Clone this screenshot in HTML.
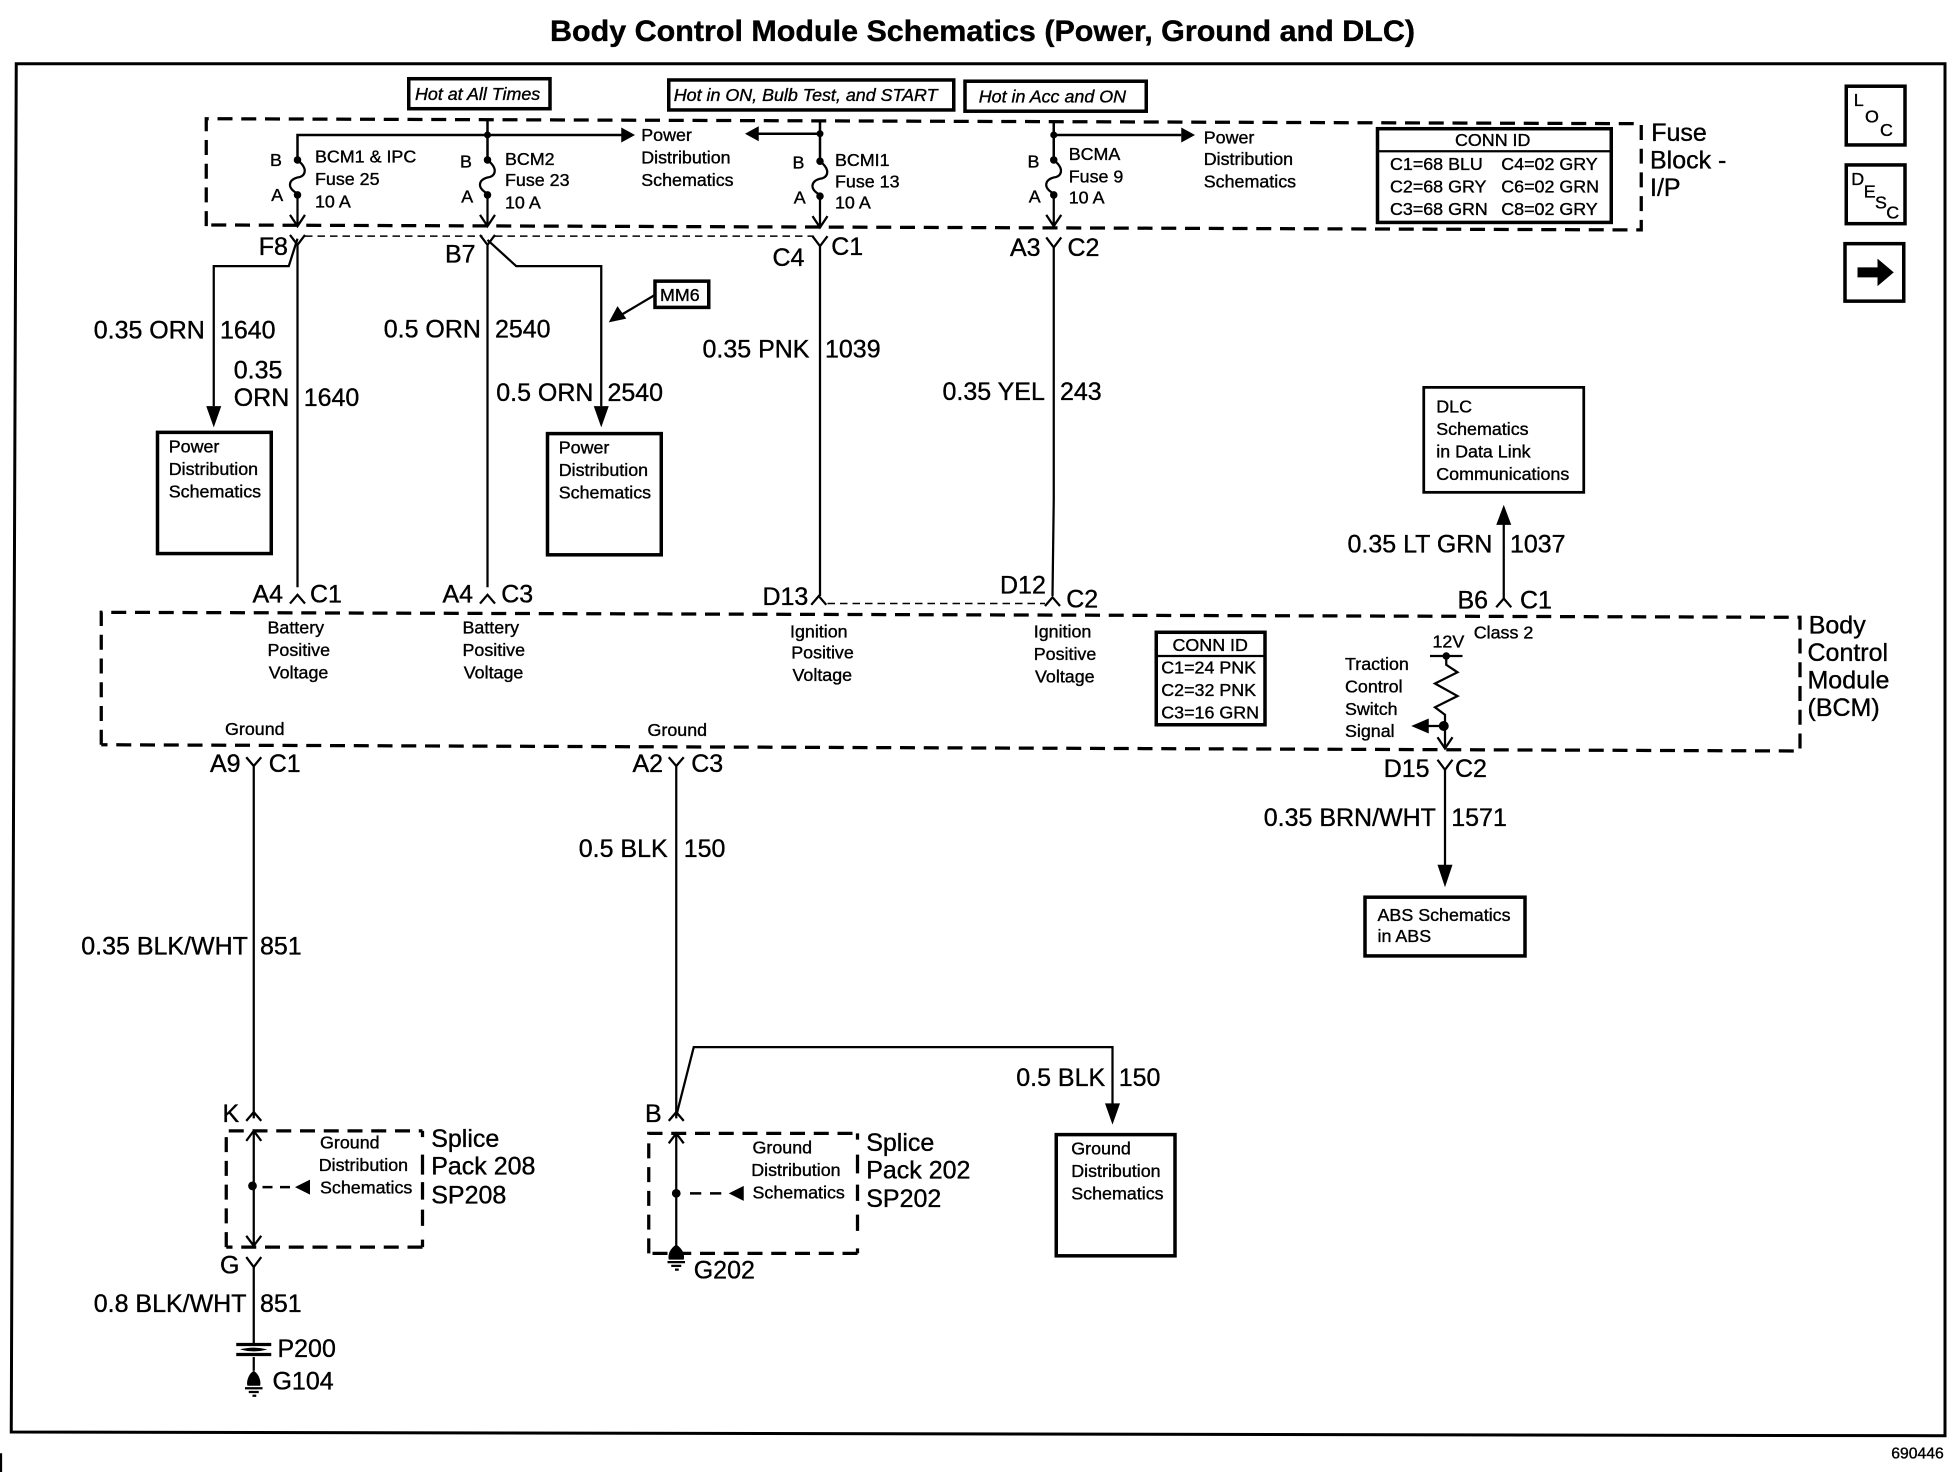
<!DOCTYPE html>
<html><head><meta charset="utf-8"><title>Body Control Module Schematics</title>
<style>
html,body{margin:0;padding:0;background:#fff}
svg{display:block}
text{font-family:"Liberation Sans",Arial,sans-serif;fill:#000;stroke:#000;stroke-width:.3}
.s{font-size:14.3px}
.m{font-size:20px}
.i{font-style:italic}
.l{fill:none;stroke:#000;stroke-width:1.8}
.d{fill:none;stroke:#000;stroke-width:2.6;stroke-dasharray:12 7}
.t{fill:none;stroke:#000;stroke-width:1.2;stroke-dasharray:6 4}
.b{fill:#fff;stroke:#000;stroke-width:2.8}
.f{fill:#000;stroke:none}
</style></head><body>
<svg width="1960" height="1472" viewBox="0 0 1568 1178" preserveAspectRatio="none" xmlns="http://www.w3.org/2000/svg">
<rect width="1568" height="1178" fill="#fff"/>
<text x="440" y="33" font-weight="bold" font-size="23.5" textLength="692" lengthAdjust="spacingAndGlyphs">Body Control Module Schematics (Power, Ground and DLC)</text>
<path d="M13,51 L1556,51 L1556,1149 L9,1146 Z" fill="none" stroke="#000" stroke-width="2.4"/>
<path d="M0.8,1163V1178" class="l"/>

<!-- hot boxes -->
<rect class="b" x="327" y="63" width="113" height="24"/>
<text class="s i" x="332" y="80">Hot at All Times</text>
<rect class="b" x="535" y="64" width="228" height="24"/>
<text class="s i" x="539" y="81">Hot in ON, Bulb Test, and START</text>
<rect class="b" x="772" y="65" width="145" height="24"/>
<text class="s i" x="783" y="82">Hot in Acc and ON</text>

<!-- fuse block -->
<path class="d" d="M165,181 V95 L1313,99 V184 L165,180"/>
<text class="m" x="1321" y="113">Fuse</text>
<text class="m" x="1320" y="135">Block -</text>
<text class="m" x="1320" y="157">I/P</text>

<!-- top bus -->
<path class="l" d="M238,128 V108 H500 M390,96 V128 M656,97 V128 M602,107 H656 M843,97 V128 M843,108 H945" style="stroke-width:2"/>
<polygon class="f" points="497,102 508,108 497,114"/>
<polygon class="f" points="607,101 596,107 607,113"/>
<polygon class="f" points="945,102 956,108 945,114"/>
<circle class="f" cx="390" cy="108" r="2.8"/><circle class="f" cx="656" cy="107" r="2.8"/><circle class="f" cx="843" cy="108" r="2.8"/>

<!-- fuses -->
<g id="fu">
<path class="l" d="M238,128 C248,136 243,142 238,142 C231,144 229,150 238,155 V180 M232,172 L238,181 L244,172"/>
<circle class="f" cx="238" cy="128" r="3"/><circle class="f" cx="238" cy="156" r="3"/>
</g>
<use href="#fu" x="152"/><use href="#fu" x="418" y="1"/><use href="#fu" x="605" y="0"/>
<text class="s" x="216" y="133">B</text><text class="s" x="217" y="161">A</text>
<text class="s" x="252" y="130">BCM1 &amp; IPC</text><text class="s" x="252" y="148">Fuse 25</text><text class="s" x="252" y="166">10 A</text>
<text class="s" x="368" y="134">B</text><text class="s" x="369" y="162">A</text>
<text class="s" x="404" y="132">BCM2</text><text class="s" x="404" y="149">Fuse 23</text><text class="s" x="404" y="167">10 A</text>
<text class="s" x="513" y="113">Power</text><text class="s" x="513" y="131">Distribution</text><text class="s" x="513" y="149">Schematics</text>
<text class="s" x="634" y="135">B</text><text class="s" x="635" y="163">A</text>
<text class="s" x="668" y="133">BCMI1</text><text class="s" x="668" y="150">Fuse 13</text><text class="s" x="668" y="167">10 A</text>
<text class="s" x="822" y="134">B</text><text class="s" x="823" y="162">A</text>
<text class="s" x="855" y="128">BCMA</text><text class="s" x="855" y="146">Fuse 9</text><text class="s" x="855" y="163">10 A</text>
<text class="s" x="963" y="115">Power</text><text class="s" x="963" y="132">Distribution</text><text class="s" x="963" y="150">Schematics</text>

<!-- conn id 1 -->
<rect class="b" x="1102" y="103" width="187" height="75"/>
<path class="l" d="M1102,121 H1289"/>
<text class="s" x="1164" y="117">CONN ID</text>
<text class="s" x="1112" y="136">C1=68 BLU</text><text class="s" x="1201" y="136">C4=02 GRY</text>
<text class="s" x="1112" y="154">C2=68 GRY</text><text class="s" x="1201" y="154">C6=02 GRN</text>
<text class="s" x="1112" y="172">C3=68 GRN</text><text class="s" x="1201" y="172">C8=02 GRY</text>

<!-- LOC / DESC / arrow -->
<rect class="b" x="1477" y="69" width="47" height="47"/>
<text class="s" x="1483" y="85">L</text><text class="s" x="1492" y="98">O</text><text class="s" x="1504" y="109">C</text>
<rect class="b" x="1477" y="132" width="47" height="47"/>
<text class="s" x="1481" y="148" font-size="12">D</text><text class="s" x="1491" y="158">E</text><text class="s" x="1500" y="167">S</text><text class="s" x="1509" y="175">C</text>
<rect class="b" x="1476" y="195" width="47" height="46"/>
<polygon class="f" points="1486,214 1502,214 1502,207 1515,218 1502,229 1502,222 1486,222"/>

<!-- F8 / B7 / C4 / A3 connectors -->
<path class="t" d="M244,189 H386 M396,189 H651"/>
<path class="l" d="M232,188 L238,196 L244,188 M238,196 V470"/>
<path class="l" d="M384,188 L390,196 L396,188 M390,196 V470"/>
<path class="l" d="M650,189 L656,197 L662,189 M656,197 V477"/>
<path class="l" d="M837,190 L843,198 L849,190 M843,198 V400 L842,477"/>
<text class="m" x="207" y="204">F8</text>
<text class="m" x="356" y="210">B7</text>
<text class="m" x="618" y="213">C4</text><text class="m" x="665" y="204">C1</text>
<text class="m" x="808" y="205">A3</text><text class="m" x="854" y="205">C2</text>

<!-- branches -->
<path class="l" d="M238,191 L231,213 H171 V325"/>
<polygon class="f" points="165,325 177,325 171,342"/>
<path class="l" d="M390,192 L413,213 H481 V325"/>
<polygon class="f" points="475,325 487,325 481,342"/>
<text class="m" x="75" y="271">0.35 ORN</text><text class="m" x="176" y="271">1640</text>
<text class="m" x="187" y="303">0.35</text><text class="m" x="187" y="325">ORN</text><text class="m" x="243" y="325">1640</text>
<text class="m" x="307" y="270">0.5 ORN</text><text class="m" x="396" y="270">2540</text>
<text class="m" x="397" y="321">0.5 ORN</text><text class="m" x="486" y="321">2540</text>
<text class="m" x="562" y="286">0.35 PNK</text><text class="m" x="660" y="286">1039</text>
<text class="m" x="754" y="320">0.35 YEL</text><text class="m" x="848" y="320">243</text>

<!-- MM6 -->
<rect class="b" x="524" y="225" width="43" height="21"/>
<text class="s" x="528" y="241">MM6</text>
<path class="l" d="M524,236 L497,252"/>
<polygon class="f" points="487,258 494,245 501,255"/>

<!-- power boxes -->
<rect class="b" x="126" y="346" width="91" height="97"/>
<text class="s" x="135" y="362">Power</text><text class="s" x="135" y="380">Distribution</text><text class="s" x="135" y="398">Schematics</text>
<rect class="b" x="438" y="347" width="91" height="97"/>
<text class="s" x="447" y="363">Power</text><text class="s" x="447" y="381">Distribution</text><text class="s" x="447" y="399">Schematics</text>

<!-- DLC -->
<rect class="b" x="1139" y="310" width="128" height="84" style="stroke-width:2.2"/>
<text class="s" x="1149" y="330">DLC</text><text class="s" x="1149" y="348">Schematics</text><text class="s" x="1149" y="366">in Data Link</text><text class="s" x="1149" y="384">Communications</text>
<path class="l" d="M1203,418 V480"/>
<polygon class="f" points="1197,420 1209,420 1203,404"/>
<text class="m" x="1078" y="442">0.35 LT GRN</text><text class="m" x="1208" y="442">1037</text>

<!-- upper BCM connectors -->
<path class="t" d="M662,483 H836"/>
<path class="l" d="M232,483 L238,476 L244,483 M384,483 L390,476 L396,483 M649,484 L655,477 L661,484 M836,485 L842,478 L848,485 M1197,486 L1203,479 L1209,486"/>
<text class="m" x="202" y="482">A4</text><text class="m" x="248" y="482">C1</text>
<text class="m" x="354" y="482">A4</text><text class="m" x="401" y="482">C3</text>
<text class="m" x="610" y="484">D13</text>
<text class="m" x="800" y="475">D12</text><text class="m" x="853" y="486">C2</text>
<text class="m" x="1166" y="487">B6</text><text class="m" x="1216" y="487">C1</text>

<!-- BCM -->
<path class="d" d="M81,596 V490 L1440,494 V601 L81,596"/>
<text class="m" x="1447" y="507">Body</text><text class="m" x="1446" y="529">Control</text><text class="m" x="1446" y="551">Module</text><text class="m" x="1446" y="573">(BCM)</text>
<text class="s" x="214" y="507">Battery</text><text class="s" x="214" y="525">Positive</text><text class="s" x="215" y="543">Voltage</text>
<text class="s" x="370" y="507">Battery</text><text class="s" x="370" y="525">Positive</text><text class="s" x="371" y="543">Voltage</text>
<text class="s" x="632" y="510">Ignition</text><text class="s" x="633" y="527">Positive</text><text class="s" x="634" y="545">Voltage</text>
<text class="s" x="827" y="510">Ignition</text><text class="s" x="827" y="528">Positive</text><text class="s" x="828" y="546">Voltage</text>
<text class="s" x="180" y="588">Ground</text><text class="s" x="518" y="589">Ground</text>

<rect class="b" x="925" y="506" width="87" height="74"/>
<path class="l" d="M925,525 H1012"/>
<text class="s" x="938" y="521">CONN ID</text>
<text class="s" x="929" y="539">C1=24 PNK</text><text class="s" x="929" y="557">C2=32 PNK</text><text class="s" x="929" y="575">C3=16 GRN</text>

<text class="s" x="1146" y="518">12V</text><text class="s" x="1179" y="511">Class 2</text>
<text class="s" x="1076" y="536">Traction</text><text class="s" x="1076" y="554">Control</text><text class="s" x="1076" y="572">Switch</text><text class="s" x="1076" y="590">Signal</text>
<path class="l" d="M1144,525 H1170 M1157,525 V532 L1166,538 L1148,547 L1166,557 L1148,566 L1156,572 V598 M1150,590 L1156,599 L1162,590 M1155,581 H1140"/>
<circle class="f" cx="1157" cy="525" r="3"/><circle class="f" cx="1155" cy="581" r="4"/>
<polygon class="f" points="1143,575 1143,587 1129,581"/>

<!-- lower connectors -->
<path class="l" d="M197,606 L203,613 L209,606 M203,613 V895"/>
<path class="l" d="M535,606 L541,613 L547,606 M541,613 V895"/>
<path class="l" d="M1150,608 L1156,616 L1162,608 M1156,616 V695"/>
<polygon class="f" points="1150,692 1162,692 1156,710"/>
<text class="m" x="168" y="618">A9</text><text class="m" x="215" y="618">C1</text>
<text class="m" x="506" y="618">A2</text><text class="m" x="553" y="618">C3</text>
<text class="m" x="1107" y="622">D15</text><text class="m" x="1164" y="622">C2</text>
<text class="m" x="463" y="686">0.5 BLK</text><text class="m" x="547" y="686">150</text>
<text class="m" x="65" y="764">0.35 BLK/WHT</text><text class="m" x="208" y="764">851</text>
<text class="m" x="1011" y="661">0.35 BRN/WHT</text><text class="m" x="1161" y="661">1571</text>

<rect class="b" x="1092" y="718" width="128" height="47"/>
<text class="s" x="1102" y="737">ABS Schematics</text><text class="s" x="1102" y="754">in ABS</text>

<path class="l" d="M541,893 L555,838 H890 V885"/>
<polygon class="f" points="884,883 896,883 890,900"/>
<text class="m" x="813" y="869">0.5 BLK</text><text class="m" x="895" y="869">150</text>
<rect class="b" x="845" y="908" width="95" height="97"/>
<text class="s" x="857" y="924">Ground</text><text class="s" x="857" y="942">Distribution</text><text class="s" x="857" y="960">Schematics</text>

<!-- SP208 -->
<path class="l" d="M197,897 L203,890 L209,897"/>
<text class="m" x="178" y="898">K</text>
<path class="d" d="M181,998 V905 H338 M338,998 H181"/>
<path class="l" d="M338,905 V910 M338,924 V940 M338,946 V960 M338,968 V981 M338,992 V998" style="stroke-width:2.6"/>
<path class="l" d="M203,905 V997 M197,913 L203,905 L209,913 M197,989 L203,997 L209,989"/>
<circle class="f" cx="202" cy="949" r="3.5"/>
<path class="l" d="M210,950 H236" style="stroke-dasharray:8 6;stroke-width:2"/>
<polygon class="f" points="248,944 248,956 236,950"/>
<text class="s" x="256" y="919">Ground</text><text class="s" x="255" y="937">Distribution</text><text class="s" x="256" y="955">Schematics</text>
<text class="m" x="345" y="918">Splice</text><text class="m" x="345" y="940">Pack 208</text><text class="m" x="345" y="963">SP208</text>
<path class="l" d="M197,1006 L203,1014 L209,1006 M203,1014 V1076"/>
<text class="m" x="176" y="1019">G</text>
<text class="m" x="75" y="1050">0.8 BLK/WHT</text><text class="m" x="208" y="1050">851</text>
<path d="M189,1076 H217 M189,1084 H217" fill="none" stroke="#000" stroke-width="2.6"/>
<path d="M192,1080 Q203,1077 214,1080 Q203,1083 192,1080Z" fill="#000"/>
<path class="l" d="M203,1086 V1097"/>
<text class="m" x="222" y="1086">P200</text>
<path class="f" d="M203,1097 C208,1100 209,1107 208,1109 H198 C197,1107 198,1100 203,1097Z"/>
<path class="l" d="M196,1111 H210 M199,1114 H207 M202,1117 H205"/>
<text class="m" x="218" y="1112">G104</text>

<!-- SP202 -->
<path class="l" d="M535,897 L541,890 L547,897"/>
<text class="m" x="516" y="898">B</text>
<path class="d" d="M519,1003 V907 H686 M686,1003 H519"/>
<path class="l" d="M686,907 V912 M686,924 V939 M686,948 V961 M686,972 V985 M686,999 V1003" style="stroke-width:2.6"/>
<path class="l" d="M541,907 V1000 M535,915 L541,907 L547,915"/>
<circle class="f" cx="541" cy="955" r="3.5"/>
<path class="l" d="M552,955 H582" style="stroke-dasharray:9 7;stroke-width:2"/>
<polygon class="f" points="595,949 595,961 583,955"/>
<text class="s" x="602" y="923">Ground</text><text class="s" x="601" y="941">Distribution</text><text class="s" x="602" y="959">Schematics</text>
<text class="m" x="693" y="921">Splice</text><text class="m" x="693" y="943">Pack 202</text><text class="m" x="693" y="966">SP202</text>
<path class="f" d="M541,996 C546,999 548,1004 547,1008 H535 C534,1004 536,999 541,996Z"/>
<path class="l" d="M534,1010 H548 M537,1013 H545 M540,1016 H543"/>
<text class="m" x="555" y="1023">G202</text>

<text x="1513" y="1167" font-size="12.6">690446</text>
</svg>
</body></html>
